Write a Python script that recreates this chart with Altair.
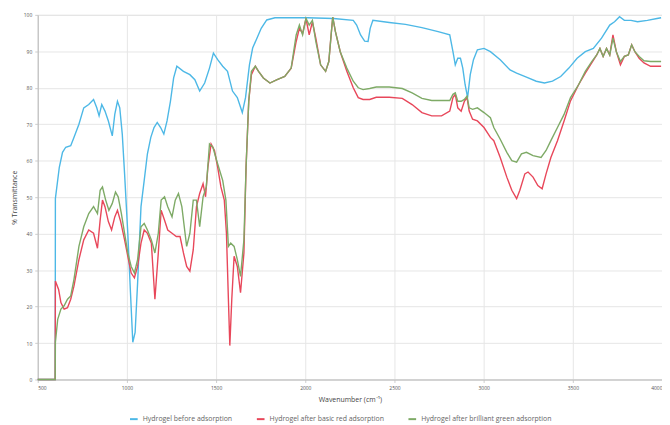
import altair as alt
import pandas as pd

series_names = [
    "Hydrogel before adsorption",
    "Hydrogel after basic red adsorption",
    "Hydrogel after brilliant green adsorption",
]

blue_wn = [500, 598, 599, 621, 639, 657, 685, 703, 731, 758, 786, 813, 831, 844, 859, 877, 896, 918, 932, 947,
           960, 974, 987, 1005, 1020, 1033, 1046, 1060, 1079, 1097, 1115, 1134, 1152, 1170, 1189, 1207, 1225,
           1244, 1262, 1280, 1317, 1353, 1381, 1408, 1436, 1463, 1485, 1509, 1537, 1564, 1592, 1619, 1647,
           1665, 1687, 1705, 1729, 1753, 1784, 1830, 2013, 2159, 2269, 2288, 2310, 2333, 2352, 2364, 2379,
           2471, 2562, 2654, 2745, 2810, 2828, 2841, 2855, 2870, 2883, 2896, 2910, 2925, 2943, 2965, 3002,
           3038, 3093, 3148, 3185, 3240, 3295, 3341, 3386, 3432, 3478, 3524, 3570, 3615, 3661, 3707, 3734,
           3762, 3789, 3826, 3863, 3918, 3972, 3995]
blue_val = [0, 0, 49.6, 58.2, 62.3, 63.7, 64.1, 66.4, 70.0, 74.5, 75.4, 76.8, 74.5, 72.3, 75.4, 73.6, 70.9, 66.8,
            72.7, 76.3, 74.5, 67.3, 56.4, 40.1, 23.8, 10.2, 12.9, 26.5, 47.4, 54.6, 61.9, 66.4, 69.1, 70.5, 69.1,
            67.3, 70.9, 76.3, 82.7, 85.9, 84.5, 83.6, 82.2, 79.1, 81.3, 85.4, 89.5, 87.7, 85.9, 84.5, 79.1, 77.3,
            73.2, 77.3, 86.3, 90.9, 93.6, 96.3, 98.6, 99.2, 99.2, 99.0, 98.5, 97.2, 94.5, 92.8, 92.7, 96.3, 98.5,
            97.9, 97.4, 96.5, 95.4, 94.5, 89.9, 86.3, 88.1, 88.1, 85.4, 80.9, 77.3, 83.6, 87.7, 90.4, 90.8,
            89.9, 87.7, 84.9, 84.0, 82.9, 81.8, 81.3, 81.8, 83.1, 85.4, 88.1, 89.9, 90.8, 93.6, 97.2, 98.1,
            99.5, 98.5, 98.5, 98.1, 98.5, 99.0, 99.2]

red_wn = [500, 598, 599, 617, 630, 648, 667, 685, 703, 731, 758, 786, 813, 835, 850, 863, 877, 896, 914, 932,
          947, 965, 987, 1005, 1024, 1042, 1060, 1079, 1097, 1115, 1137, 1157, 1176, 1192, 1211, 1229, 1253,
          1277, 1298, 1317, 1335, 1353, 1372, 1390, 1408, 1427, 1441, 1454, 1472, 1491, 1509, 1527, 1546,
          1558, 1569, 1577, 1588, 1601, 1619, 1637, 1656, 1668, 1683, 1698, 1720, 1738, 1765, 1802, 1839,
          1885, 1921, 1949, 1967, 1985, 2004, 2022, 2040, 2059, 2086, 2114, 2132, 2145, 2154, 2169, 2196,
          2233, 2269, 2297, 2324, 2361, 2398, 2471, 2544, 2599, 2654, 2709, 2764, 2810, 2828, 2841, 2855,
          2874, 2892, 2907, 2919, 2938, 2965, 3002, 3038, 3057, 3093, 3130, 3158, 3185, 3203, 3231, 3249,
          3277, 3304, 3328, 3350, 3377, 3414, 3451, 3487, 3533, 3570, 3606, 3634, 3652, 3670, 3689, 3707,
          3725, 3744, 3767, 3789, 3811, 3830, 3848, 3872, 3899, 3936, 3972, 3995]
red_val = [0, 0, 27.0, 24.7, 21.1, 19.3, 19.7, 22.0, 25.6, 32.9, 38.3, 41.0, 40.1, 36.0, 43.7, 49.2, 47.4, 43.3,
           41.0, 44.6, 46.4, 43.3, 38.3, 33.8, 29.2, 27.9, 31.0, 37.4, 41.0, 40.1, 37.4, 22.0, 34.7, 46.4, 43.7,
           41.0, 40.1, 39.2, 39.2, 34.7, 31.0, 29.7, 35.6, 47.4, 51.0, 53.7, 50.1, 58.2, 64.6, 62.8, 58.2, 52.8,
           49.2, 40.1, 22.0, 9.3, 22.0, 33.8, 31.0, 23.8, 34.7, 58.2, 76.3, 83.6, 85.9, 84.5, 82.7, 81.3, 82.2,
           83.1, 85.4, 92.7, 96.3, 94.9, 99.0, 94.5, 98.1, 93.6, 86.3, 84.5, 87.2, 94.5, 99.4, 95.4, 89.9,
           84.5, 80.0, 77.3, 76.8, 76.8, 77.4, 77.4, 77.1, 75.4, 73.2, 72.3, 72.3, 73.6, 77.3, 78.2, 74.5,
           73.6, 76.3, 77.3, 73.6, 71.4, 70.9, 69.1, 66.4, 65.5, 60.9, 55.5, 51.9, 49.6, 51.9, 56.4, 56.9,
           55.5, 53.2, 52.3, 56.4, 60.9, 65.5, 70.9, 76.4, 80.9, 84.0, 86.8, 89.0, 90.8, 88.6, 90.8, 89.0,
           94.5, 89.9, 86.3, 88.6, 89.0, 91.8, 89.9, 88.1, 86.8, 85.9, 85.9, 85.9]

green_wn = [500, 598, 599, 612, 630, 648, 667, 685, 703, 731, 758, 786, 813, 835, 850, 863, 881, 899, 918, 936,
            951, 969, 987, 1005, 1024, 1042, 1060, 1079, 1097, 1115, 1137, 1157, 1176, 1192, 1211, 1229, 1253,
            1271, 1289, 1308, 1326, 1335, 1353, 1372, 1390, 1408, 1427, 1445, 1463, 1482, 1509, 1537, 1555,
            1569, 1582, 1601, 1619, 1637, 1656, 1668, 1683, 1698, 1720, 1738, 1765, 1802, 1839, 1885, 1921,
            1949, 1967, 1985, 2004, 2022, 2040, 2059, 2086, 2114, 2132, 2145, 2154, 2169, 2196, 2233, 2269,
            2297, 2324, 2361, 2398, 2471, 2544, 2599, 2654, 2709, 2764, 2810, 2828, 2841, 2855, 2874, 2892,
            2907, 2919, 2938, 2965, 3002, 3038, 3057, 3093, 3130, 3158, 3185, 3212, 3240, 3277, 3322, 3350,
            3377, 3414, 3451, 3487, 3533, 3570, 3606, 3634, 3652, 3670, 3689, 3707, 3725, 3744, 3767, 3789,
            3811, 3830, 3848, 3872, 3899, 3936, 3972, 3995]
green_val = [0, 0, 10.2, 16.5, 19.3, 20.2, 22.0, 22.9, 27.4, 36.5, 41.9, 45.5, 47.4, 45.5, 51.9, 52.8, 49.2, 46.4,
             48.3, 51.4, 50.1, 45.5, 40.1, 34.7, 31.0, 29.2, 32.9, 41.9, 42.8, 41.0, 38.3, 34.7, 40.1, 49.2, 50.1,
             47.4, 44.6, 49.2, 51.0, 47.4, 40.1, 36.5, 40.1, 49.2, 49.2, 41.9, 50.1, 52.8, 64.6, 63.7, 59.1, 54.6,
             49.2, 36.5, 37.4, 36.5, 32.9, 28.3, 38.3, 58.2, 76.3, 84.5, 85.9, 84.5, 82.7, 81.3, 82.2, 83.1, 85.4,
             94.5, 97.2, 94.5, 99.0, 97.2, 98.5, 92.7, 86.3, 84.5, 87.2, 94.5, 99.4, 95.4, 89.9, 85.4, 81.8,
             80.0, 79.5, 79.8, 80.2, 80.2, 79.8, 78.6, 77.1, 76.5, 76.5, 76.5, 78.2, 78.6, 76.3, 76.3, 76.8,
             77.7, 74.5, 74.1, 74.5, 73.2, 71.8, 69.1, 65.9, 62.3, 60.0, 59.6, 61.9, 62.3, 61.4, 60.9, 62.8,
             65.5, 69.1, 72.7, 77.3, 80.9, 84.5, 87.2, 89.0, 90.8, 88.6, 90.8, 89.0, 93.6, 89.9, 87.2, 88.6,
             89.0, 91.8, 89.9, 88.6, 87.4, 87.2, 87.2, 87.2]

x_ticks = [500, 1000, 1500, 2000, 2500, 3000, 3500, 4000]
y_ticks = [0, 10, 20, 30, 40, 50, 60, 70, 80, 90, 100]
colors = ["#4db8e6", "#e8475a", "#7eaa66"]

rows = []
for name, wns, vals in zip(series_names, [blue_wn, red_wn, green_wn], [blue_val, red_val, green_val]):
    for i, (w, v) in enumerate(zip(wns, vals)):
        rows.append({"series": name, "wn": w, "t": v, "i": i})
df = pd.DataFrame(rows)

chart = alt.Chart(df).mark_line(strokeWidth=1.4).encode(
    x=alt.X("wn:Q", title="Wavenumber (cm⁻¹)",
            scale=alt.Scale(domain=[500, 4000], nice=False),
            axis=alt.Axis(values=x_ticks, format="d", labelFontSize=5, titleFontSize=7,
                          titleFontWeight="normal",
                          labelColor="#555", titleColor="#444", tickSize=3, tickColor="#ccc",
                          domainColor="#bbb", gridColor="#e6e6e6", titlePadding=5, labelPadding=3)),
    y=alt.Y("t:Q", title="% Transmittance",
            scale=alt.Scale(domain=[0, 100], nice=False),
            axis=alt.Axis(values=y_ticks, format="d", labelFontSize=5, titleFontSize=7,
                          titleFontWeight="normal",
                          labelColor="#555", titleColor="#444", tickSize=3, tickColor="#ccc",
                          domainColor="#bbb", gridColor="#e6e6e6", titlePadding=6, labelPadding=3)),
    color=alt.Color("series:N", sort=series_names,
                    scale=alt.Scale(domain=series_names, range=colors),
                    legend=alt.Legend(title=None, orient="none", legendX=92, legendY=403,
                                      direction="horizontal",
                                      symbolType="stroke", symbolStrokeWidth=2, symbolSize=60,
                                      labelFontSize=7, labelColor="#666", columnPadding=20)),
    order="i:Q",
).properties(
    width=630, height=368,
    autosize=alt.AutoSizeParams(type="none"),
    padding={"left": 30, "top": 5, "right": 0, "bottom": 45},
).configure_view(stroke=None).configure(font="Open Sans")

chart.save("out.html", embed_options={"renderer": "svg", "actions": False})
